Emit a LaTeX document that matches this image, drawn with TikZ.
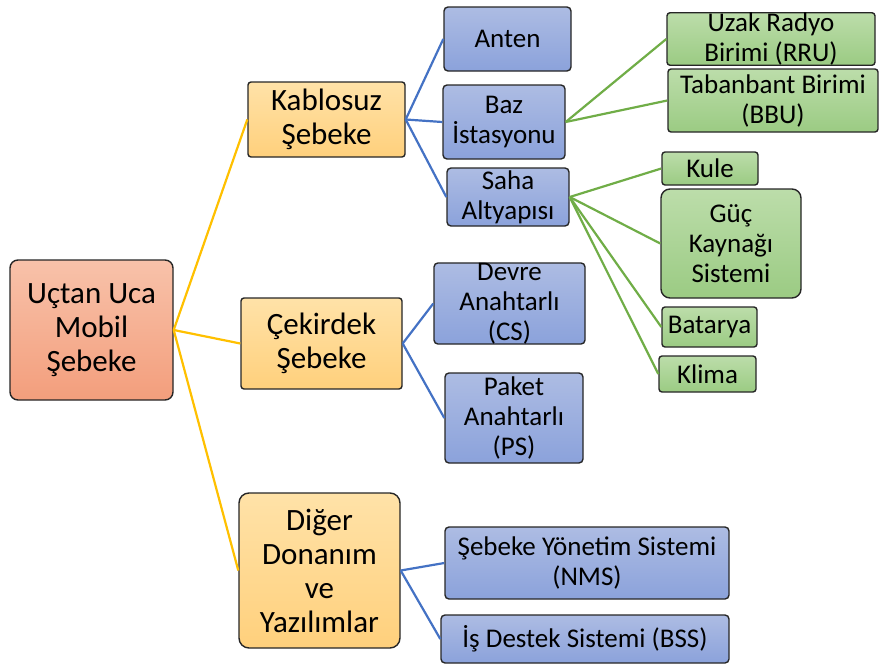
\documentclass[tikz,border=0pt]{standalone}
\usepackage{fontspec}
\setmainfont{Carlito}
\definecolor{rootT}{HTML}{F8C2AA}
\definecolor{rootB}{HTML}{F39E7C}
\definecolor{yelT}{HTML}{FFE2A8}
\definecolor{yelB}{HTML}{FFD07C}
\definecolor{bluT}{HTML}{ADBCE3}
\definecolor{bluB}{HTML}{8BA2DB}
\definecolor{grnT}{HTML}{BCDDAA}
\definecolor{grnB}{HTML}{9BCB83}
\definecolor{lnY}{HTML}{FFC000}
\definecolor{lnB}{HTML}{4472C4}
\definecolor{lnG}{HTML}{70AD47}
\tikzset{
  box/.style={draw=black!85, line width=1.4pt, align=center, inner sep=0pt, text=black},
  rootbox/.style={box, top color=rootT, bottom color=rootB, rounded corners=8pt, font=\fontsize{31}{34}\selectfont},
  yelbox/.style={box, top color=yelT, bottom color=yelB, rounded corners=3pt, font=\fontsize{31}{34}\selectfont},
  blubox/.style={box, top color=bluT, bottom color=bluB, rounded corners=4pt, font=\fontsize{27}{30}\selectfont},
  grnbox/.style={box, top color=grnT, bottom color=grnB, rounded corners=3pt, font=\fontsize{27}{30}\selectfont},
  lineY/.style={draw=lnY, line width=2.2pt},
  lineB/.style={draw=lnB, line width=2.2pt},
  lineG/.style={draw=lnG, line width=2.2pt},
}
\begin{document}
\begin{tikzpicture}[x=1pt,y=-1pt]
\useasboundingbox (0,0) rectangle (879,664);
% level 0
\node[rootbox, minimum width=163pt, minimum height=140pt] (root) at (91.5,330) {Uçtan Uca\\Mobil\\Şebeke};
% level 1
\node[yelbox, minimum width=157pt, minimum height=75pt] (kab) at (326.5,119.5) {Kablosuz\\Şebeke};
\node[yelbox, minimum width=161pt, minimum height=91pt] (cek) at (321.5,343.5) {Çekirdek\\Şebeke};
\node[yelbox, rounded corners=10pt, minimum width=161pt, minimum height=155pt] (dig) at (319.5,570.5) {Diğer\\Donanım\\ve\\Yazılımlar};
% level 2
\node[blubox, minimum width=127pt, minimum height=64pt] (anten) at (507.5,39) {Anten};
\node[blubox, minimum width=122pt, minimum height=74pt] (baz) at (504,122) {Baz\\İstasyonu};
\node[blubox, minimum width=122pt, minimum height=58pt] (saha) at (508,197) {Saha\\Altyapısı};
\node[blubox, minimum width=151pt, minimum height=81pt] (cs) at (509.5,303.5) {Devre\\Anahtarlı\\(CS)};
\node[blubox, minimum width=138pt, minimum height=90pt] (ps) at (514,418) {Paket\\Anahtarlı\\(PS)};
\node[blubox, minimum width=284pt, minimum height=72pt] (nms) at (587,563) {Şebeke Yönetim Sistemi\\(NMS)};
\node[blubox, minimum width=288pt, minimum height=48pt] (bss) at (585,639) {İş Destek Sistemi (BSS)};
% level 3
\node[grnbox, minimum width=208pt, minimum height=52pt] (rru) at (771,39) {Uzak Radyo\\Birimi (RRU)};
\node[grnbox, minimum width=210pt, minimum height=63pt] (bbu) at (773,100.5) {Tabanbant Birimi\\(BBU)};
\node[grnbox, minimum width=96pt, minimum height=33pt] (kule) at (710,168.5) {Kule};
\node[grnbox, rounded corners=9pt, minimum width=140pt, minimum height=109pt] (guc) at (731,243.5) {Güç\\Kaynağı\\Sistemi};
\node[grnbox, minimum width=95pt, minimum height=40pt] (bat) at (709.5,327) {Batarya};
\node[grnbox, minimum width=97pt, minimum height=36pt] (klima) at (707.5,374) {Klima};
% connectors
\draw[lineY] (root.east) -- (kab.west);
\draw[lineY] (root.east) -- (cek.west);
\draw[lineY] (root.east) -- (dig.west);
\draw[lineB] (kab.east) -- (anten.west);
\draw[lineB] (kab.east) -- (baz.west);
\draw[lineB] (kab.east) -- (saha.west);
\draw[lineB] (cek.east) -- (cs.west);
\draw[lineB] (cek.east) -- (ps.west);
\draw[lineB] (dig.east) -- (nms.west);
\draw[lineB] (dig.east) -- (bss.west);
\draw[lineG] (baz.east) -- (rru.west);
\draw[lineG] (baz.east) -- (bbu.west);
\draw[lineG] (saha.east) -- (kule.west);
\draw[lineG] (saha.east) -- (guc.west);
\draw[lineG] (saha.east) -- (bat.west);
\draw[lineG] (saha.east) -- (klima.west);
\end{tikzpicture}
\end{document}
